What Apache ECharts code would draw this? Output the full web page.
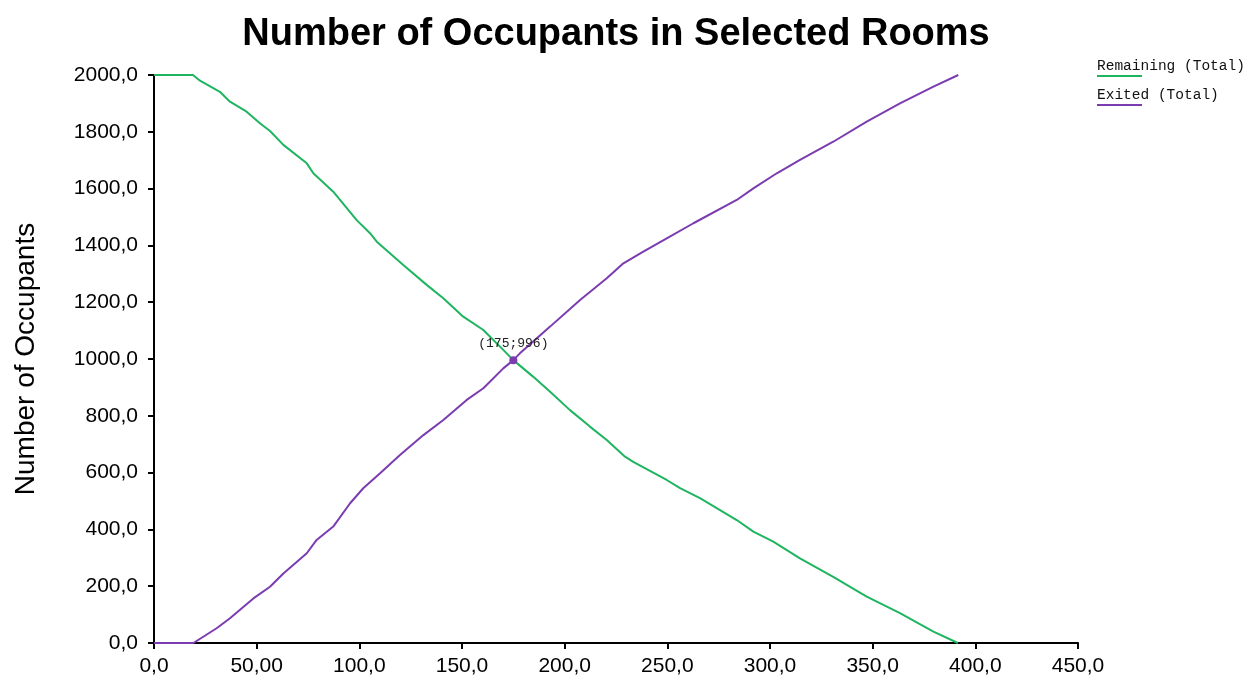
<!DOCTYPE html>
<html>
<head>
<meta charset="utf-8">
<title>Number of Occupants in Selected Rooms</title>
<script src="https://cdn.jsdelivr.net/npm/echarts@6/dist/echarts.min.js"></script>
<style>
  html, body { margin: 0; padding: 0; background: #fff; }
  #chart { width: 1248px; height: 688px; }
</style>
</head>
<body>
<div id="chart"></div>
<script>
// values
const remainingX = [0, 19, 22.4, 32.1, 37, 45.1, 51.6, 56.5, 63, 74.4, 77.6, 87.3, 98.7, 105.2, 108.5, 121.4, 132.8, 140.9, 150.6, 160.4, 170.1, 175, 184.6, 192.9, 202.6, 212.3, 220.5, 229.4, 233.4, 249.7, 256.2, 265.9, 283.8, 291.9, 301.6, 314.6, 330.8, 347.1, 363.3, 379.6, 391.5]
const remainingY = [2000, 2000, 1980, 1941, 1906, 1871, 1830, 1803, 1754, 1689, 1654, 1589, 1489, 1443, 1413, 1331, 1261, 1214, 1149, 1102, 1032, 996, 938, 885, 820, 762, 715, 656, 638, 574, 545, 510, 433, 392, 357, 298, 233, 163, 105, 40, 0]

const exitedX = [0, 19.2, 30.5, 37, 48.4, 56.5, 63, 74.4, 79.2, 87.3, 95.5, 101.9, 110.1, 119.8, 131.2, 140.9, 152.3, 160.4, 170.1, 175, 178.2, 192.9, 207.5, 220.5, 228.6, 238.3, 249.7, 262.7, 283.8, 291.9, 303.3, 314.6, 330.8, 347.1, 363.3, 379.6, 391.7]
const exitedY = [0, 0, 52, 87, 157, 198, 245, 316, 363, 410, 492, 545, 598, 662, 732, 785, 856, 897, 967, 996, 1020, 1114, 1208, 1284, 1337, 1378, 1425, 1478, 1560, 1601, 1654, 1701, 1765, 1836, 1900, 1959, 2000]

const markerPoint = [175, 996]

const xTickLabels = ['0,0', '50,00', '100,0', '150,0', '200,0', '250,0', '300,0', '350,0', '400,0', '450,0']
const yTickLabels = ['0,0', '200,0', '400,0', '600,0', '800,0', '1000,0', '1200,0', '1400,0', '1600,0', '1800,0', '2000,0']

const seriesNames = ['Remaining (Total)', 'Exited (Total)']
const seriesColors = ['#1fb560', '#7b3cb0']

const sansFont = '"Liberation Sans", Arial, sans-serif'
const monoFont = '"Liberation Mono", "Courier New", monospace'

const chart = echarts.init(document.getElementById('chart'), null, { renderer: 'canvas' })

function zip(xs, ys) {
  return xs.map((x, i) => [x, ys[i]])
}

chart.setOption({
  animation: false,
  backgroundColor: '#fff',
  title: {
    text: 'Number of Occupants in Selected Rooms',
    left: 611,
    textAlign: 'center',
    top: 11,
    textStyle: { fontFamily: sansFont, fontSize: 38, fontWeight: 'bold', color: '#000' }
  },
  grid: { left: 154, right: 170, top: 75, bottom: 45, containLabel: false },
  xAxis: {
    type: 'value',
    min: 0,
    max: 450,
    interval: 50,
    splitLine: { show: false },
    axisLine: { show: true, lineStyle: { color: '#000', width: 2 } },
    axisTick: { show: true, length: 6, lineStyle: { color: '#000', width: 2 } },
    axisLabel: {
      margin: 13,
      fontFamily: sansFont, fontSize: 21, color: '#000',
      formatter: v => xTickLabels[Math.round(v / 50)]
    }
  },
  yAxis: {
    type: 'value',
    min: 0,
    max: 2000,
    interval: 200,
    splitLine: { show: false },
    name: 'Number of Occupants',
    nameLocation: 'middle',
    nameGap: 114,
    nameTextStyle: { fontFamily: sansFont, fontSize: 28, color: '#000' },
    axisLine: { show: true, lineStyle: { color: '#000', width: 2 } },
    axisTick: { show: true, length: 6, lineStyle: { color: '#000', width: 2 } },
    axisLabel: {
      margin: 16,
      fontFamily: sansFont, fontSize: 21, color: '#000',
      formatter: v => yTickLabels[Math.round(v / 200)]
    }
  },
  series: [
    {
      name: seriesNames[0],
      type: 'line',
      data: zip(remainingX, remainingY),
      showSymbol: false,
      lineStyle: { color: seriesColors[0], width: 2 },
      itemStyle: { color: seriesColors[0] },
      z: 3
    },
    {
      name: seriesNames[1],
      type: 'line',
      data: zip(exitedX, exitedY),
      showSymbol: false,
      lineStyle: { color: seriesColors[1], width: 2 },
      itemStyle: { color: seriesColors[1] },
      z: 4,
      markPoint: {
        symbol: 'circle',
        symbolSize: 8,
        itemStyle: { color: seriesColors[1] },
        label: {
          show: true,
          position: 'top',
          distance: 6,
          formatter: '(' + markerPoint[0] + ';' + markerPoint[1] + ')',
          fontFamily: monoFont,
          fontSize: 13,
          color: '#222'
        },
        data: [{ coord: markerPoint }]
      }
    }
  ],
  // legend of the original puts the line under the name
  graphic: seriesNames.flatMap((name, i) => [
    {
      type: 'text',
      left: 1097,
      top: 59 + i * 29,
      style: { text: name, fontFamily: monoFont, fontSize: 14.5, fill: '#111' }
    },
    {
      type: 'line',
      shape: { x1: 1097, y1: 76 + i * 29, x2: 1142, y2: 76 + i * 29 },
      style: { stroke: seriesColors[i], lineWidth: 2 }
    }
  ])
})
</script>
</body>
</html>
